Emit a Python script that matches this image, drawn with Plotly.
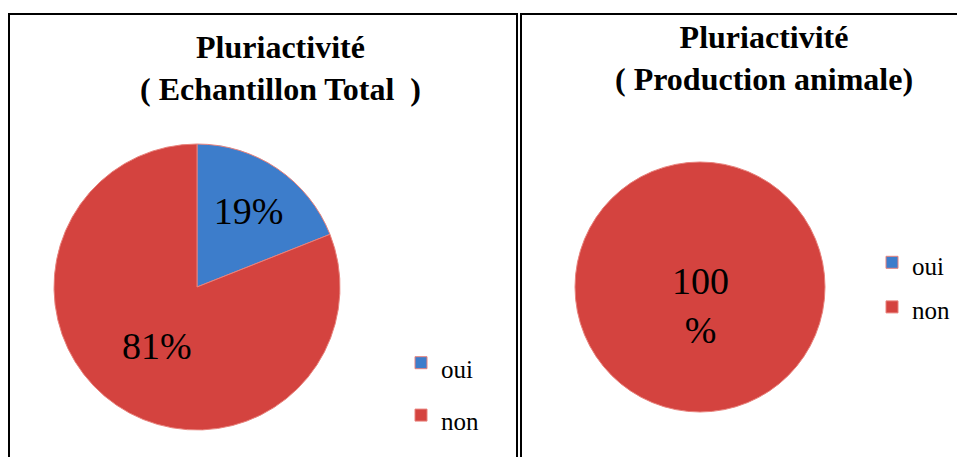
import plotly.graph_objects as go

# data
labels        = ['oui', 'non']
total_values  = [19, 81]
animal_values = [0, 100]

title_total  = '<b>Pluriactivité<br>( Echantillon Total  )</b>'
title_animal = '<b>Pluriactivité<br>( Production animale)</b>'

colors = ['#3D7DCB', '#D4433F']
W, H   = 965, 457
OFF    = 8   # the page body adds an 8px margin round the plot div


def px_x(v):
    return (v - OFF) / W


def px_y(v):
    return 1 - (v - OFF) / H


serif = 'Liberation Serif, Times New Roman, serif'

# legend labels drawn at a smaller size than the legend font, so the rows sit further apart
legend_labels = [f"<span style='font-size:25px'>{l}</span>" for l in labels]

fig = go.Figure()

fig.add_trace(go.Pie(labels    = legend_labels,
                     values    = total_values,
                     text      = [f'{v}%' for v in total_values],
                     textinfo  = 'text',
                     textposition = 'inside',
                     insidetextorientation = 'horizontal',
                     sort      = False,
                     direction = 'clockwise',
                     marker    = dict(colors = colors,
                                      line   = dict(color = '#E8827C', width = 1)),
                     textfont  = dict(family = serif, size = 38, color = 'black'),
                     domain    = dict(x = [px_x(54), px_x(340)],
                                      y = [px_y(430), px_y(144)]),
                     legend      = 'legend',
                     legendgroup = 'total',
                     hoverinfo   = 'percent'))

fig.add_trace(go.Pie(labels    = legend_labels,
                     values    = animal_values,
                     textinfo  = 'none',
                     sort      = False,
                     direction = 'clockwise',
                     marker    = dict(colors = colors,
                                      line   = dict(color = '#E8827C', width = 1)),
                     domain    = dict(x = [px_x(575), px_x(825)],
                                      y = [px_y(412), px_y(162)]),
                     legend      = 'legend2',
                     legendgroup = 'animal',
                     hoverinfo   = 'percent'))

# 100 % label of the right pie, wrapped over two lines as in the original
fig.add_annotation(text = f'{animal_values[1]}<br>%', x = px_x(700), y = px_y(305),
                   xref = 'paper', yref = 'paper', showarrow = False,
                   font = dict(family = serif, size = 38, color = 'black'),
                   xanchor = 'center', yanchor = 'middle')

# panel borders
for x0, x1 in [(9, 517), (521, 990)]:
    fig.add_shape(type = 'rect', xref = 'paper', yref = 'paper',
                  x0 = px_x(x0), x1 = px_x(x1), y0 = px_y(480), y1 = px_y(14),
                  line = dict(color = 'black', width = 2))

# panel titles
fig.add_annotation(text = title_total, x = px_x(280), y = px_y(68),
                   xref = 'paper', yref = 'paper', showarrow = False,
                   font = dict(family = serif, size = 32, color = 'black'),
                   xanchor = 'center', yanchor = 'middle')
fig.add_annotation(text = title_animal, x = px_x(764), y = px_y(58),
                   xref = 'paper', yref = 'paper', showarrow = False,
                   font = dict(family = serif, size = 32, color = 'black'),
                   xanchor = 'center', yanchor = 'middle')

legend_style = dict(bgcolor = 'rgba(0,0,0,0)', itemwidth = 30,
                    xanchor = 'left', yanchor = 'middle')

fig.update_layout(width  = W,
                  height = H,
                  margin = dict(l = 0, r = 0, t = 0, b = 0),
                  paper_bgcolor = 'white',
                  plot_bgcolor  = 'white',
                  legend  = dict(x = px_x(401), y = px_y(389),
                                 font = dict(family = serif, size = 38, color = 'black'),
                                 **legend_style),
                  legend2 = dict(x = px_x(872), y = px_y(285),
                                 font = dict(family = serif, size = 32, color = 'black'),
                                 **legend_style))

fig.write_html("out.html")
